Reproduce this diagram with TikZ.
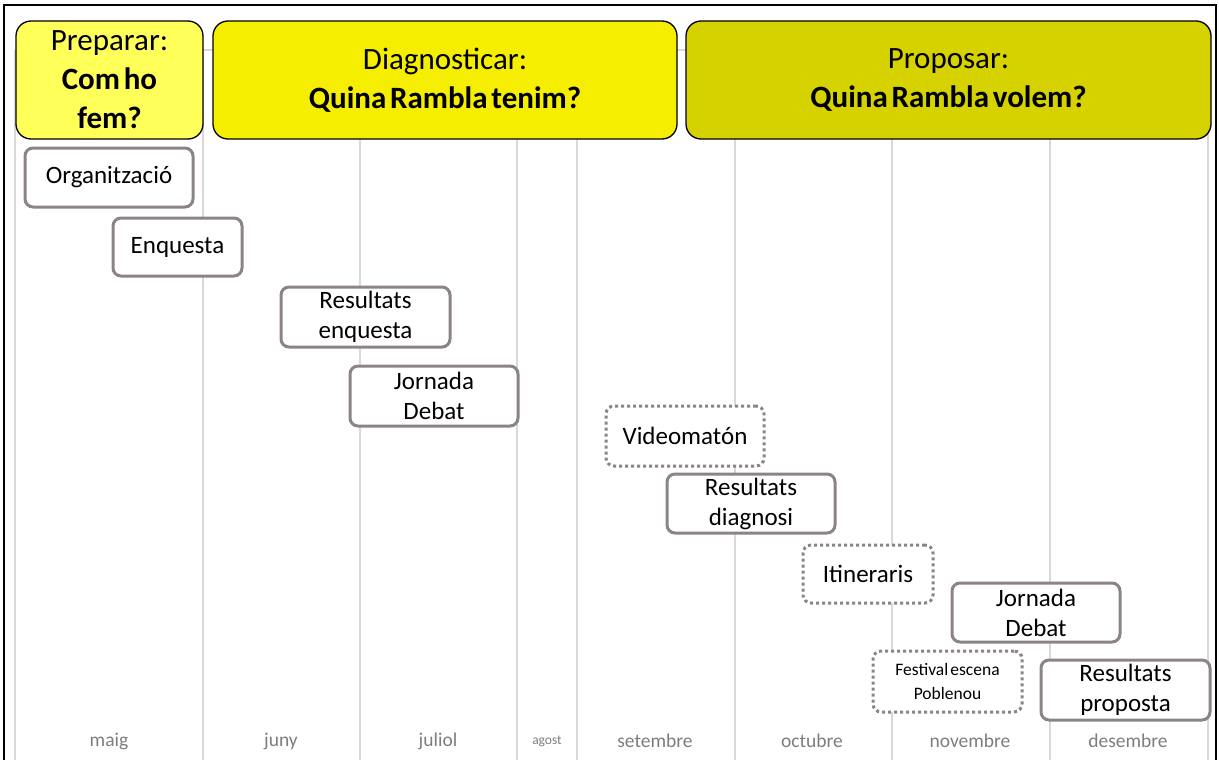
\documentclass[tikz,border=0pt]{standalone}
\usepackage{fontspec}
\setmainfont{Carlito}
\usepackage{tikz}
\definecolor{gridgray}{RGB}{217,217,217}
\definecolor{taskgray}{RGB}{140,132,132}
\definecolor{monthgray}{RGB}{125,125,125}
\definecolor{prepyellow}{RGB}{255,255,90}
\definecolor{diagyellow}{RGB}{245,238,0}
\definecolor{propyellow}{RGB}{214,210,0}
\newcommand\tightwords{\spaceskip 0.12em\relax}
\tikzset{
	phase/.style={draw=black, line width=1.3pt, rounded corners=15pt, inner sep=0pt, align=center, font=\fontsize{31}{39}\selectfont\tightwords},
	task/.style={draw=taskgray, line width=3pt, rounded corners=8pt, fill=white, inner sep=0pt, align=center, font=\fontsize{25}{30}\selectfont},
	taskdot/.style={task, dash pattern=on 3pt off 3pt},
	month/.style={text=monthgray, font=\fontsize{19.5}{21}\selectfont}
}

\begin{document}
\begin{tikzpicture}[x=1pt, y=-1pt]
		%%%%% START %%%%%
		\useasboundingbox (0, 0) rectangle (1219, 760);
		
		% grid
		\draw[gridgray, line width=1.2pt] (15, 50) -- (1208, 50);
		\foreach \gx in {15, 203, 360, 517, 577, 735, 892, 1050, 1208}
			\draw[gridgray, line width=1.2pt] (\gx, 50) -- (\gx, 760);
		
		% frame
		\draw[black, line width=2.5pt] (4, 760) -- (4, 5) -- (1216, 5) -- (1216, 760);
		
		% phases
		\node[phase, fill=prepyellow, minimum width=187pt, minimum height=118pt] (preparar) at (109.5, 80) {Preparar:\\\textbf{Com ho}\\\textbf{fem?}};
		\node[phase, fill=diagyellow, minimum width=464pt, minimum height=118pt] (diagnosticar) at (445, 80) {Diagnosticar:\\\textbf{Quina Rambla tenim?}};
		\node[phase, fill=propyellow, minimum width=525pt, minimum height=118pt] (proposar) at (948.5, 80) {Proposar:\\\textbf{Quina Rambla volem?}};
		
		% tasks
		\node[task, minimum width=168pt, minimum height=59pt] (organitzacio) at (109, 177.5) {Organització};
		\node[task, minimum width=129pt, minimum height=58pt] (enquesta) at (177.5, 247) {Enquesta};
		\node[task, minimum width=169pt, minimum height=60pt] (resenquesta) at (365.5, 317) {Resultats\\enquesta};
		\node[task, minimum width=168pt, minimum height=60pt] (jornada1) at (434, 396) {Jornada\\Debat};
		\node[taskdot, minimum width=158pt, minimum height=60pt] (videomaton) at (685, 436) {Videomatón};
		\node[task, minimum width=168pt, minimum height=59pt] (resdiagnosi) at (751, 503.5) {Resultats\\diagnosi};
		\node[taskdot, minimum width=130pt, minimum height=58pt] (itineraris) at (868, 574) {Itineraris};
		\node[task, minimum width=168pt, minimum height=59pt] (jornada2) at (1036, 612.5) {Jornada\\Debat};
		\node[taskdot, minimum width=149pt, minimum height=61pt, font=\fontsize{17.5}{24}\selectfont\tightwords] (festival) at (947.5, 681.5) {Festival escena\\Poblenou};
		\node[task, minimum width=169pt, minimum height=60pt] (resproposta) at (1125.5, 690) {Resultats\\proposta};
		
		% months
		\foreach \mx/\mname in {109/maig, 281/juny, 438/juliol, 655/setembre, 812/octubre, 970/novembre, 1128/desembre}
			\node[month] (m-\mname) at (\mx, 741) {\mname};
		\node[month, font=\fontsize{13.5}{15}\selectfont] (m-agost) at (547, 741) {agost};
		%%%%% END %%%%%
	\end{tikzpicture}
\end{document}
